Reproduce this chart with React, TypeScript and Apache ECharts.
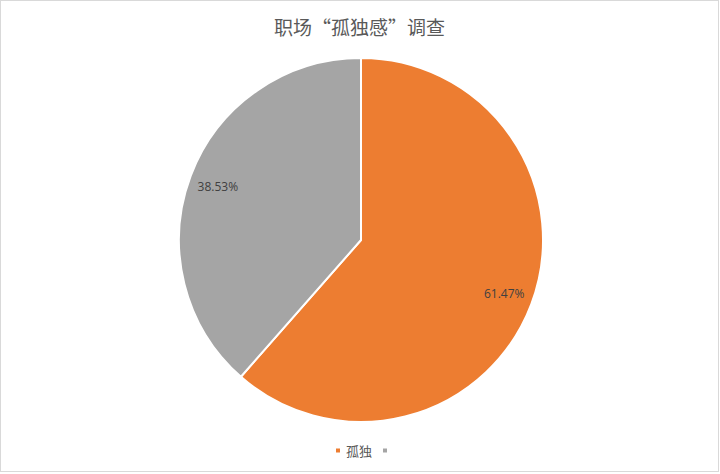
import React, { useEffect, useRef } from "react";
import * as echarts from "echarts";

const titleText = "职场“孤独感”调查";
const categories = ["孤独", " "];
const values = [61.47, 38.53];
const colors = ["#ED7D31", "#A5A5A5"];

export default function App() {
  const ref = useRef<HTMLDivElement>(null);
  useEffect(() => {
    document.body.style.margin = "0";
    const chart = echarts.init(ref.current!, null, { renderer: "svg" });
    const data = categories.map((name, i) => ({
      name,
      value: values[i],
      itemStyle: { color: colors[i] },
    }));
    const font = "'Noto Sans CJK SC', 'Open Sans', sans-serif";
    chart.setOption({
      animation: false,
      backgroundColor: "#ffffff",
      title: {
        text: titleText,
        left: "center",
        top: 11,
        textStyle: { fontSize: 19, fontWeight: "normal", color: "#595959", fontFamily: font },
      },
      legend: {
        bottom: 9,
        left: 328,
        data: categories,
        icon: "rect",
        itemWidth: 6,
        itemHeight: 6,
        itemGap: 9,
        selectedMode: false,
        textStyle: { fontSize: 13, color: "#595959", fontFamily: font },
      },
      series: [
        {
          type: "pie",
          center: [360, 239],
          radius: 182,
          startAngle: 90,
          clockwise: true,
          silent: true,
          itemStyle: { borderColor: "#ffffff", borderWidth: 2 },
          label: { show: false },
          labelLine: { show: false },
          data,
        },
        {
          type: "pie",
          center: [360, 239],
          radius: [118, 182],
          startAngle: 90,
          clockwise: true,
          silent: true,
          itemStyle: { color: "transparent", borderWidth: 0 },
          label: {
            show: true,
            position: "inside",
            formatter: (p: any) => p.value.toFixed(2) + "%",
            fontSize: 12,
            color: "#404040",
            fontFamily: "'Open Sans', 'Noto Sans', sans-serif",
          },
          labelLine: { show: false },
          data: categories.map((name, i) => ({ name, value: values[i] })),
        },
      ],
    });
    return () => chart.dispose();
  }, []);
  return (
    <div
      style={{
        position: "absolute",
        left: 0,
        top: 0,
        width: 719,
        height: 472,
        boxSizing: "border-box",
        border: "1px solid #d9d9d9",
      }}
    >
      <div ref={ref} style={{ width: 717, height: 470 }} />
    </div>
  );
}
